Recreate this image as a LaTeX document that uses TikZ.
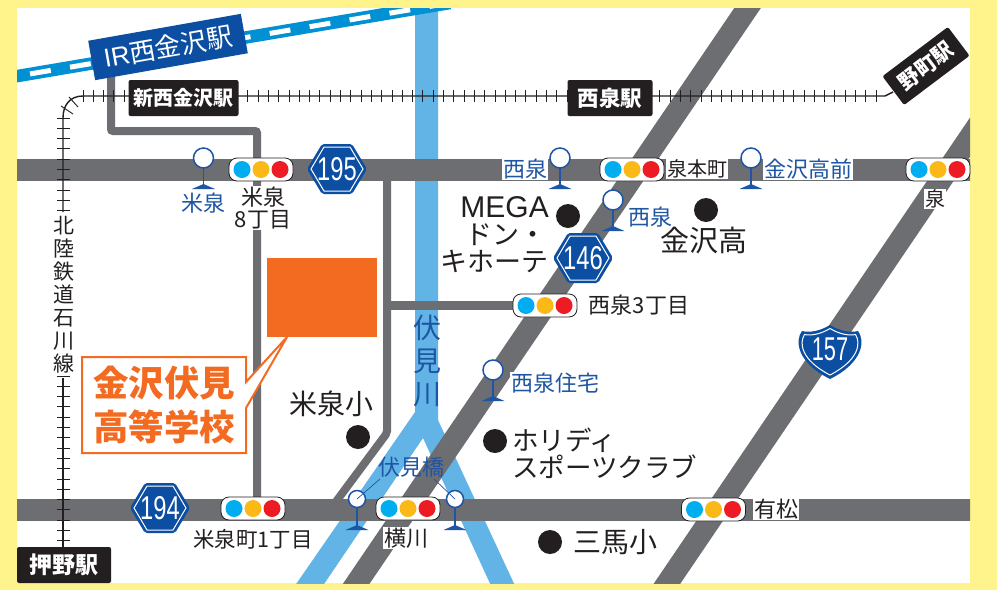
\documentclass[tikz,border=0pt]{standalone}
\usepackage{fontspec}
\setmainfont{Noto Sans CJK JP}
\newfontfamily\latf{Liberation Sans}
\definecolor{bgy}{HTML}{FFF38C}
\definecolor{roadg}{HTML}{6D6E71}
\definecolor{riverb}{HTML}{62B4E6}
\definecolor{irb}{HTML}{0090D4}
\definecolor{navy}{HTML}{0B4EA2}
\definecolor{stopb}{HTML}{1E55A5}
\definecolor{orng}{HTML}{F36B21}
\definecolor{sigc}{HTML}{00AEEF}
\definecolor{sigy}{HTML}{FBB917}
\definecolor{sigr}{HTML}{ED1C24}
\definecolor{ink}{HTML}{231F20}
\newcommand{\fs}[2]{\fontsize{#1}{#2}\selectfont}
\tikzset{
  mainroad/.style={draw=roadg,line width=22pt},
  thinroad/.style={draw=roadg,line width=8pt,rounded corners=2pt},
  stationbox/.style={fill=ink,rounded corners=2pt,text=white,align=center,inner sep=0pt},
  blk/.style={text=ink,inner sep=0pt,align=center},
  blkw/.style={text=ink,inner sep=1.2pt,fill=white,align=center},
  blu/.style={text=stopb,inner sep=0.6pt,fill=white,align=center,font=\fs{22}{22}},
  tie/.style={draw=ink,line width=0.9pt},
  poi/.style={circle,fill=ink,minimum size=24pt,inner sep=0pt},
}
\newcommand{\sigl}[3]{%
  \node[draw=ink,fill=white,line width=0.8pt,rounded corners=8pt,minimum width=64pt,minimum height=23pt,inner sep=0pt] (#1) at (#2,#3) {};
  \fill[sigc] (#2-19,#3) circle (8.5);
  \fill[sigy] (#2,#3) circle (8.5);
  \fill[sigr] (#2+19,#3) circle (8.5);
}
\newcommand{\busstop}[4]{%
  \draw[stopb,line width=1.3pt] (#2,#3+9) -- (#2,#3+29);
  \fill[stopb] (#2-11.5,#3+31) -- (#2,#3+26) -- (#2+11.5,#3+31) -- cycle;
  \node[circle,draw=stopb,fill=white,line width=1.5pt,minimum size=#4,inner sep=0pt] (#1) at (#2,#3) {};
}
\newcommand{\hexshield}[4]{%
  \fill[navy,rounded corners=2pt] (#2-30,#3) -- (#2-15,#3-25) -- (#2+15,#3-25) -- (#2+30,#3) -- (#2+15,#3+25) -- (#2-15,#3+25) -- cycle;
  \draw[white,line width=1pt] (#2-26,#3) -- (#2-13,#3-22) -- (#2+13,#3-22) -- (#2+26,#3) -- (#2+13,#3+22) -- (#2-13,#3+22) -- cycle;
  \node[text=white,inner sep=0pt] (#1) at (#2,#3) {\latf\fs{33}{33}\scalebox{0.72}[1]{#4}};
}
\begin{document}
\begin{tikzpicture}[x=1pt,y=-1pt]
\useasboundingbox (0,0) rectangle (997,590);
\fill[bgy] (0,0) rectangle (997,590);
\fill[white] (17,8) rectangle (970,583);
\begin{scope}
\clip (17,8) rectangle (970,583);
% river
\fill[riverb] (415,0) -- (438,0) -- (438,420) -- (517,590) -- (493,590) -- (423,438) -- (320,590) -- (292,590) -- (415,412) -- cycle;
% main roads
\draw[mainroad] (0,170) -- (997,170);
\draw[mainroad] (0,509.5) -- (997,509.5);
\draw[mainroad] (753,0) -- (352,590);
\draw[mainroad] (1000,93) -- (660,594);
% thin roads
\draw[thinroad] (111,70) -- (111,131) -- (257,131) -- (257,505);
\draw[thinroad] (387,175) -- (387,433) -- (332,507);
\draw[draw=roadg,line width=9pt] (387,305.5) -- (520,305.5);
% IR line
\draw[irb,line width=12.5pt] (0,79) -- (450,3);
\draw[white,line width=5pt,dash pattern=on 21pt off 19.5pt,dash phase=10pt] (0,79) -- (450,3);
\end{scope}
% railway
\draw[draw=ink,line width=1.4pt] (63,212) -- (63,118) .. controls (63,105) and (70,96) .. (83,96) -- (885,96) -- (893,92);
\draw[draw=ink,line width=1.4pt] (63,378) -- (63,575);
\foreach \x in {83,93.3,...,885} {\draw[tie] (\x,90) -- (\x,102);}
\foreach \y in {118,128.3,...,212} {\draw[tie] (57,\y) -- (70,\y);}
\foreach \y in {376,386.3,...,548} {\draw[tie] (57,\y) -- (70,\y);}
\draw[tie] (61,106) -- (73,114);
\draw[tie] (69,97) -- (78,107);
% orange building
\fill[orng] (267,258) rectangle (377,337);
% callout
\draw[orng,fill=white,line width=2pt,line join=miter] (82,357) -- (246,357) -- (246,382) -- (287,337) -- (246,408) -- (246,453) -- (82,453) -- cycle;
\node[text=orng,inner sep=0pt,align=center,font=\bfseries\fs{35.5}{44}] (school) at (164,405) {金沢伏見\\高等学校};
% station labels
\node[stationbox,rotate=10,minimum width=155pt,minimum height=40pt,fill=navy,rounded corners=0pt] (ir) at (168,47) {\fs{26}{26}{\latf IR}西金沢駅};
\node[stationbox,minimum width=110pt,minimum height=36pt] (shinnishi) at (183.5,98) {\bfseries\fs{20}{21}新西金沢駅};
\node[stationbox,minimum width=85pt,minimum height=36pt] (nishiizumi) at (610,98) {\bfseries\fs{21.5}{22}西泉駅};
\node[stationbox,rotate=37,minimum width=82pt,minimum height=36pt] (nomachi) at (926,66) {\bfseries\fs{21}{22}野町駅};
\node[stationbox,minimum width=94pt,minimum height=36pt] (oshino) at (64,565) {\bfseries\fs{23}{23}押野駅};
% line name
\node[blk,font=\fs{21}{23}] (hokuriku) at (64,295) {北\\陸\\鉄\\道\\石\\川\\線};
% signals
\sigl{s1}{261}{169.5}
\sigl{s2}{632}{169.5}
\sigl{s3}{938}{169.5}
\sigl{s4}{545}{305.5}
\sigl{s5}{253}{508.5}
\sigl{s6}{408}{508.5}
\sigl{s7}{713.5}{509.5}
% bus stops
\busstop{b1}{203.5}{158}{20pt}
\busstop{b2}{560}{158}{20pt}
\busstop{b3}{751}{158}{20pt}
\busstop{b4}{613}{200}{20pt}
\busstop{b5}{493}{370}{20pt}
\busstop{b6}{357}{499}{17pt}
\busstop{b7}{455}{499}{17pt}
% shields
\hexshield{h195}{337}{169}{195}
\hexshield{h194}{160}{508}{194}
\hexshield{h146}{583}{258}{146}
\fill[navy] (830,325) .. controls (820,331) and (810,333) .. (802,331) .. controls (795,340) and (796,362) .. (830,379) .. controls (864,362) and (865,340) .. (858,331) .. controls (850,333) and (840,331) .. (830,325) -- cycle;
\draw[white,line width=1pt] (830,328.5) .. controls (821,334) and (811,336) .. (804.5,334.5) .. controls (799,343) and (801,360) .. (830,375) .. controls (859,360) and (861,343) .. (855.5,334.5) .. controls (849,336) and (839,334) .. (830,328.5) -- cycle;
\node[text=white,inner sep=0pt] (h157) at (830,349) {\latf\fs{33}{33}\scalebox{0.66}[1]{157}};
% blue labels
\node[blu] (l1) at (203,203) {米泉};
\node[blu] (l2) at (525,169.5) {西泉};
\node[blu] (l3) at (808,169.5) {金沢高前};
\node[blu] (l4) at (650,217) {西泉};
\node[blu] (l5) at (555,383) {西泉住宅};
\node[text=stopb,inner sep=0pt,font=\fs{22}{22}] (l6) at (411,467) {伏見橋};
\draw[stopb,line width=0.7pt] (b6.center) -- (380,479);
\draw[stopb,line width=0.7pt] (b7.center) -- (434,479);
\node[text=stopb,inner sep=0pt,align=center,font=\fs{28}{33}] (fushimi) at (427,361) {伏\\見\\川};
% black labels
\node[blkw,font=\fs{22}{22}] (t1) at (263,208) {米泉\\8丁目};
\node[blk,anchor=east,font=\latf\fs{30}{30}] (mega) at (549,207) {MEGA};
\node[blk,anchor=east,font=\fs{27}{27}] (don) at (547,235) {ドン・};
\node[blk,anchor=east,font=\fs{27}{27}] (kihote) at (549,261) {キホーテ};
\node[poi] (d1) at (568,216) {};
\node[poi] (d2) at (706,210) {};
\node[blk,font=\fs{29}{29}] (t2) at (704,241) {金沢高};
\node[blkw,font=\fs{20}{20}] (t3) at (697,169) {泉本町};
\node[blkw,font=\fs{20}{20}] (t4) at (935,199) {泉};
\node[blk,font=\fs{22}{22}] (t5) at (639,305) {西泉3丁目};
\node[blk,font=\fs{28}{28}] (t6) at (331,404) {米泉小};
\node[poi] (d3) at (358,437) {};
\node[poi] (d4) at (495,441) {};
\node[blk,anchor=west,font=\fs{26.5}{26.5}] (holi) at (512,440) {ホリディ};
\node[blk,anchor=west,font=\fs{26.5}{26.5}] (sports) at (512,467) {スポーツクラブ};
\node[poi] (d5) at (550,542) {};
\node[blk,font=\fs{28}{28}] (t7) at (615,542) {三馬小};
\node[blkw,font=\fs{22}{22}] (t8) at (406,538) {横川};
\node[blk,font=\fs{21.5}{22}] (t9) at (253,539) {米泉町1丁目};
\node[blkw,font=\fs{22}{22}] (t10) at (776,509) {有松};
\end{tikzpicture}
\end{document}
